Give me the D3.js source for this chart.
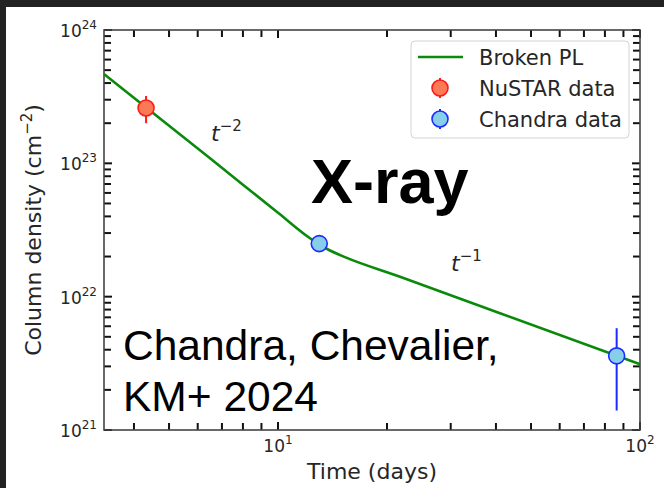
<!DOCTYPE html>
<html>
<head>
<meta charset="utf-8">
<script src="https://cdn.jsdelivr.net/npm/d3@7"></script>
<style>
  html, body { margin: 0; padding: 0; background: #fff; }
  svg { display: block; }
</style>
</head>
<body>
<svg id="chart" width="664" height="488"></svg>
<script>
// Broken power-law model, sampled along the curve (days, cm^-2)
const modelTime = [3.306, 6.49, 10, 12.26, 13.0, 13.92, 15.31, 21.73, 41.05, 100];
const modelColumn = [4.68e23, 1.09e23, 4.26e22, 2.74e22, 2.46e22, 2.22e22, 1.98e22, 1.41e22, 7.5e21, 3.12e21];

// NuSTAR measurement
const nustarTime = [4.32];
const nustarColumn = [2.6e23];
const nustarErr = [0.6e23];

// Chandra measurements
const chandraTime = [13.0, 86.2];
const chandraColumn = [2.5e22, 3.6e21];
const chandraErr = [0.15e22, 2.2e21];

// Axis ticks
const xMajorTicks = [10, 100];
const xTickExponents = ["1", "2"];
const yMajorTicks = [1e21, 1e22, 1e23, 1e24];
const yTickExponents = ["21", "22", "23", "24"];

const legendLabels = ["Broken PL", "NuSTAR data", "Chandra data"];

const svg = d3.select("#chart");
const W = 664, H = 488;
const plot = { left: 104, right: 640, top: 30, bottom: 430 };

// dark frame on top and left edges
svg.append("rect").attr("x", 0).attr("y", 0).attr("width", W).attr("height", 7).attr("fill", "#222");
svg.append("rect").attr("x", 0).attr("y", 0).attr("width", 6).attr("height", H).attr("fill", "#222");

const x = d3.scaleLog().domain([3.306, 100]).range([plot.left, plot.right]);
const y = d3.scaleLog().domain([1e21, 1e24]).range([plot.bottom, plot.top]);

svg.append("defs").append("clipPath").attr("id", "clip")
  .append("rect").attr("x", plot.left).attr("y", plot.top)
  .attr("width", plot.right - plot.left).attr("height", plot.bottom - plot.top);

// minor ticks (log subdivisions)
const xMinor = [];
[1, 10].forEach(dec => { for (let k = 2; k <= 9; k++) { const v = k * dec; if (v >= 3.306 && v <= 100) xMinor.push(v); } });
const yMinor = [];
[1e21, 1e22, 1e23].forEach(dec => { for (let k = 2; k <= 9; k++) yMinor.push(k * dec); });

const tickLen = 8, minorLen = 7;
const ticks = svg.append("g").attr("stroke", "#111").attr("stroke-width", 2);
xMajorTicks.forEach(v => {
  ticks.append("line").attr("x1", x(v)).attr("x2", x(v)).attr("y1", plot.bottom).attr("y2", plot.bottom - tickLen);
  ticks.append("line").attr("x1", x(v)).attr("x2", x(v)).attr("y1", plot.top).attr("y2", plot.top + tickLen);
});
xMinor.forEach(v => {
  ticks.append("line").attr("x1", x(v)).attr("x2", x(v)).attr("y1", plot.bottom).attr("y2", plot.bottom - minorLen);
  ticks.append("line").attr("x1", x(v)).attr("x2", x(v)).attr("y1", plot.top).attr("y2", plot.top + minorLen);
});
yMajorTicks.forEach(v => {
  ticks.append("line").attr("y1", y(v)).attr("y2", y(v)).attr("x1", plot.left).attr("x2", plot.left + tickLen);
  ticks.append("line").attr("y1", y(v)).attr("y2", y(v)).attr("x1", plot.right).attr("x2", plot.right - tickLen);
});
yMinor.forEach(v => {
  ticks.append("line").attr("y1", y(v)).attr("y2", y(v)).attr("x1", plot.left).attr("x2", plot.left + minorLen);
  ticks.append("line").attr("y1", y(v)).attr("y2", y(v)).attr("x1", plot.right).attr("x2", plot.right - minorLen);
});

// spines
svg.append("rect").attr("x", plot.left).attr("y", plot.top)
  .attr("width", plot.right - plot.left).attr("height", plot.bottom - plot.top)
  .attr("fill", "none").attr("stroke", "#444").attr("stroke-width", 1.6);

const tickFont = "DejaVu Sans";
const txtColor = "#262626";

// x tick labels
xMajorTicks.forEach((v, i) => {
  const t = svg.append("text").attr("x", x(v)).attr("y", 452)
    .attr("text-anchor", "middle").attr("font-family", tickFont).attr("font-size", 17).attr("fill", txtColor);
  t.append("tspan").text("10");
  t.append("tspan").attr("font-size", 12).attr("dy", -8).text(xTickExponents[i]);
});
// y tick labels
yMajorTicks.forEach((v, i) => {
  const t = svg.append("text").attr("x", 97).attr("y", y(v) + 7)
    .attr("text-anchor", "end").attr("font-family", tickFont).attr("font-size", 17).attr("fill", txtColor);
  t.append("tspan").text("10");
  t.append("tspan").attr("font-size", 12).attr("dy", -8).text(yTickExponents[i]);
});

// axis labels
svg.append("text").attr("x", (plot.left + plot.right) / 2).attr("y", 479)
  .attr("text-anchor", "middle").attr("font-family", tickFont).attr("font-size", 22).attr("fill", txtColor)
  .text("Time (days)");
const yl = svg.append("text").attr("transform", `translate(41,${(plot.top + plot.bottom) / 2}) rotate(-90)`)
  .attr("text-anchor", "middle").attr("font-family", tickFont).attr("font-size", 22).attr("fill", txtColor);
yl.append("tspan").text("Column density (cm");
yl.append("tspan").attr("font-size", 15).attr("dy", -9).text("\u22122");
yl.append("tspan").attr("dy", 9).text(")");

// model curve
const modelPts = modelTime.map((t, i) => [t, modelColumn[i]]);
svg.append("path").datum(modelPts).attr("clip-path", "url(#clip)")
  .attr("fill", "none").attr("stroke", "#0a8a0a").attr("stroke-width", 2.6)
  .attr("d", d3.line().x(d => x(d[0])).y(d => y(d[1])).curve(d3.curveMonotoneX));

// data points with error bars
function drawPoints(times, vals, errs, fill, edge) {
  const g = svg.append("g");
  times.forEach((t, i) => {
    g.append("line").attr("x1", x(t)).attr("x2", x(t))
      .attr("y1", y(vals[i] - errs[i])).attr("y2", y(vals[i] + errs[i]))
      .attr("stroke", edge).attr("stroke-width", 2);
  });
  times.forEach((t, i) => {
    g.append("circle").attr("cx", x(t)).attr("cy", y(vals[i])).attr("r", 8)
      .attr("fill", fill).attr("stroke", edge).attr("stroke-width", 1.6);
  });
}
drawPoints(nustarTime, nustarColumn, nustarErr, "#fa7a55", "#ff1a1a");
drawPoints(chandraTime, chandraColumn, chandraErr, "#87ceeb", "#1a2cff");

// slope annotations
function slopeLabel(px, py, exp) {
  const t = svg.append("text").attr("x", px).attr("y", py)
    .attr("font-family", tickFont).attr("font-size", 22).attr("fill", txtColor);
  t.append("tspan").attr("font-style", "italic").text("t");
  t.append("tspan").attr("font-size", 15).attr("dy", -10).text("\u2212" + exp);
}
slopeLabel(211, 141, "2");
slopeLabel(451, 271, "1");

// legend
const lg = svg.append("g");
lg.append("rect").attr("x", 411).attr("y", 41).attr("width", 218).attr("height", 97).attr("rx", 4)
  .attr("fill", "#fff").attr("fill-opacity", 0.85).attr("stroke", "#d4d4d4").attr("stroke-width", 1);
const rowY = [57, 88, 119];
lg.append("line").attr("x1", 418).attr("x2", 463).attr("y1", rowY[0]).attr("y2", rowY[0])
  .attr("stroke", "#0a8a0a").attr("stroke-width", 2.6);
[["#fa7a55", "#ff1a1a"], ["#87ceeb", "#1a2cff"]].forEach((c, i) => {
  const cy = rowY[i + 1];
  lg.append("line").attr("x1", 440).attr("x2", 440).attr("y1", cy - 10).attr("y2", cy + 10)
    .attr("stroke", c[1]).attr("stroke-width", 2);
  lg.append("circle").attr("cx", 440).attr("cy", cy).attr("r", 8)
    .attr("fill", c[0]).attr("stroke", c[1]).attr("stroke-width", 1.6);
});
legendLabels.forEach((s, i) => {
  lg.append("text").attr("x", 479).attr("y", rowY[i] + 8)
    .attr("font-family", tickFont).attr("font-size", 21).attr("fill", txtColor).text(s);
});

// overlay titles
svg.append("text").attr("x", 311).attr("y", 203)
  .attr("font-family", "Liberation Sans, Arial, sans-serif").attr("font-weight", "bold")
  .attr("font-size", 63).attr("fill", "#000").text("X-ray");
svg.append("text").attr("x", 123).attr("y", 360)
  .attr("font-family", "Liberation Sans, Arial, sans-serif").attr("font-size", 42.5).attr("fill", "#000")
  .text("Chandra, Chevalier,");
svg.append("text").attr("x", 123).attr("y", 411)
  .attr("font-family", "Liberation Sans, Arial, sans-serif").attr("font-size", 42.5).attr("fill", "#000")
  .text("KM+ 2024");
</script>
</body>
</html>
